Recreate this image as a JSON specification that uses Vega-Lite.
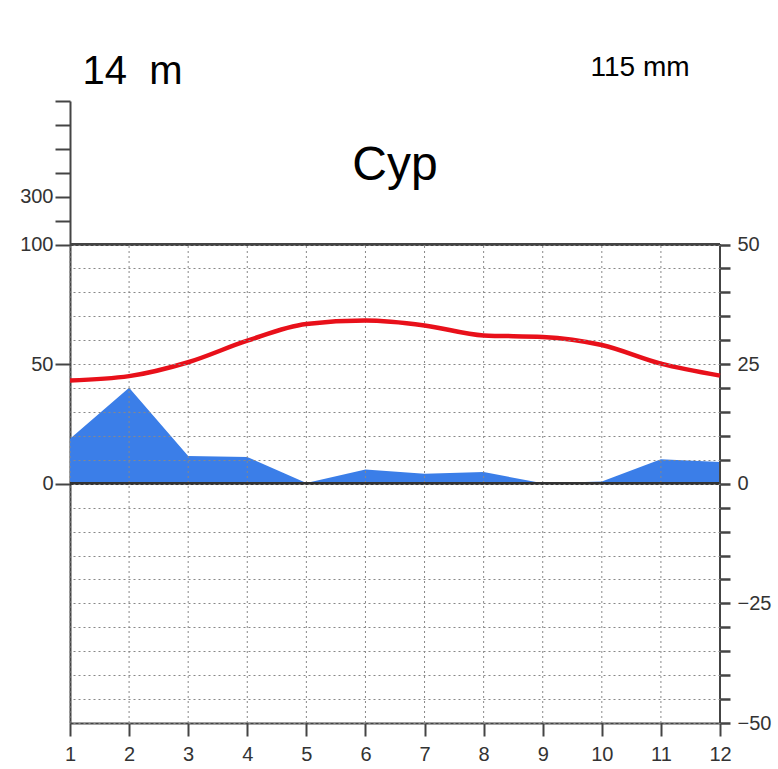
{
  "$schema": "https://vega.github.io/schema/vega-lite/v6.json",
  "width": 650,
  "height": 622,
  "autosize": {"type": "none"},
  "padding": {"left": 70, "top": 101, "right": 58, "bottom": 46},
  "background": "white",
  "config": {
    "font": "Liberation Sans",
    "view": {"stroke": null}
  },
  "title": {"text": "Cyp", "fontSize": 48, "fontWeight": "normal", "color": "black", "anchor": "middle", "frame": "group", "baseline": "alphabetic", "offset": -177},
  "data": {"values": [
    {"month": 1, "temp": 21.6, "precip": 18.8},
    {"month": 2, "temp": 22.5, "precip": 40.1},
    {"month": 3, "temp": 25.4, "precip": 11.6},
    {"month": 4, "temp": 29.9, "precip": 11.2},
    {"month": 5, "temp": 33.4, "precip": 0.3},
    {"month": 6, "temp": 34.1, "precip": 6.0},
    {"month": 7, "temp": 33.1, "precip": 4.2},
    {"month": 8, "temp": 31.0, "precip": 4.9},
    {"month": 9, "temp": 30.7, "precip": 0.2},
    {"month": 10, "temp": 29.0, "precip": 1.0},
    {"month": 11, "temp": 25.1, "precip": 10.2},
    {"month": 12, "temp": 22.6, "precip": 9.1}
  ]},
  "layer": [
    {
      "mark": {"type": "area", "color": "#3b7ee8", "interpolate": "linear", "opacity": 1},
      "encoding": {
        "x": {"field": "month", "type": "quantitative",
          "scale": {"domain": [1, 12], "nice": false, "zero": false},
          "axis": {"orient": "bottom", "values": [1,2,3,4,5,6,7,8,9,10,11,12], "format": "d", "grid": false,
            "tickSize": 13, "tickWidth": 2, "tickColor": "#444", "domainColor": "#444", "domainWidth": 2,
            "labelFontSize": 20, "labelColor": "#333", "labelPadding": 8, "labelFlush": false, "title": null}},
        "y": {"field": "precip", "type": "quantitative",
          "scale": {"domain": [-100, 160], "nice": false, "zero": false},
          "axis": {"orient": "left", "values": [0, 50, 100, 110, 120, 130, 140, 150, 160],
            "labelExpr": "datum.value == 0 ? '0' : datum.value == 50 ? '50' : datum.value == 100 ? '100' : datum.value == 120 ? '300' : ''",
            "grid": false, "tickSize": 15, "tickWidth": 2, "tickColor": "#444", "domainColor": "#444", "domainWidth": 2,
            "labelFontSize": 20, "labelColor": "#333", "labelPadding": 2, "labelFlush": false, "labelOverlap": false,
            "title": "14\u00a0\u00a0m", "titleAngle": 0, "titleX": 12, "titleY": -18, "titleAlign": "left", "titleBaseline": "alphabetic",
            "titleFontSize": 40, "titleFontWeight": "normal", "titleColor": "black"}}
      }
    },
    {
      "layer": [
        {
          "mark": {"type": "rule", "color": "#888", "strokeDash": [2, 3], "strokeWidth": 1},
          "encoding": {"x": {"field": "month", "type": "quantitative"},
            "y": {"datum": -50, "type": "quantitative",
              "axis": {"orient": "right", "values": [-50,-45,-40,-35,-30,-25,-20,-15,-10,-5,0,5,10,15,20,25,30,35,40,45,50],
                "labelExpr": "datum.value % 25 == 0 ? (datum.value < 0 ? '\u2212' + abs(datum.value) : '' + datum.value) : ''",
                "grid": true, "gridColor": "#888", "gridDash": [2, 3], "gridWidth": 1, "domain": false,
                "tickSize": 10, "tickWidth": 2.5, "tickColor": "#444",
                "labelFontSize": 20, "labelColor": "#333", "labelPadding": 7, "labelFlush": false, "labelOverlap": false,
                "title": "115 mm", "titleAngle": 0, "titleX": -130, "titleY": -26, "titleAlign": "left", "titleBaseline": "alphabetic",
                "titleFontSize": 28, "titleFontWeight": "normal", "titleColor": "black", "zindex": 1}},
            "y2": {"datum": 50}}
        },
        {
          "mark": {"type": "rule", "color": "#444", "strokeWidth": 2},
          "encoding": {"y": {"datum": 50, "type": "quantitative",
              "axis": {"orient": "right", "values": [-50,-45,-40,-35,-30,-25,-20,-15,-10,-5,0,5,10,15,20,25,30,35,40,45,50],
                "labelExpr": "datum.value % 25 == 0 ? (datum.value < 0 ? '\u2212' + abs(datum.value) : '' + datum.value) : ''",
                "grid": true, "gridColor": "#888", "gridDash": [2, 3], "gridWidth": 1, "domain": false,
                "tickSize": 10, "tickWidth": 2.5, "tickColor": "#444",
                "labelFontSize": 20, "labelColor": "#333", "labelPadding": 7, "labelFlush": false, "labelOverlap": false,
                "title": "115 mm", "titleAngle": 0, "titleX": -130, "titleY": -26, "titleAlign": "left", "titleBaseline": "alphabetic",
                "titleFontSize": 28, "titleFontWeight": "normal", "titleColor": "black", "zindex": 1}}}
        },
        {
          "mark": {"type": "rule", "color": "#333", "strokeWidth": 2.5},
          "encoding": {"y": {"datum": 0, "type": "quantitative",
              "axis": {"orient": "right", "values": [-50,-45,-40,-35,-30,-25,-20,-15,-10,-5,0,5,10,15,20,25,30,35,40,45,50],
                "labelExpr": "datum.value % 25 == 0 ? (datum.value < 0 ? '\u2212' + abs(datum.value) : '' + datum.value) : ''",
                "grid": true, "gridColor": "#888", "gridDash": [2, 3], "gridWidth": 1, "domain": false,
                "tickSize": 10, "tickWidth": 2.5, "tickColor": "#444",
                "labelFontSize": 20, "labelColor": "#333", "labelPadding": 7, "labelFlush": false, "labelOverlap": false,
                "title": "115 mm", "titleAngle": 0, "titleX": -130, "titleY": -26, "titleAlign": "left", "titleBaseline": "alphabetic",
                "titleFontSize": 28, "titleFontWeight": "normal", "titleColor": "black", "zindex": 1}}}
        },
        {
          "mark": {"type": "rule", "color": "#444", "strokeWidth": 2},
          "encoding": {"x": {"datum": 12},
            "y": {"datum": -50, "type": "quantitative",
              "axis": {"orient": "right", "values": [-50,-45,-40,-35,-30,-25,-20,-15,-10,-5,0,5,10,15,20,25,30,35,40,45,50],
                "labelExpr": "datum.value % 25 == 0 ? (datum.value < 0 ? '\u2212' + abs(datum.value) : '' + datum.value) : ''",
                "grid": true, "gridColor": "#888", "gridDash": [2, 3], "gridWidth": 1, "domain": false,
                "tickSize": 10, "tickWidth": 2.5, "tickColor": "#444",
                "labelFontSize": 20, "labelColor": "#333", "labelPadding": 7, "labelFlush": false, "labelOverlap": false,
                "title": "115 mm", "titleAngle": 0, "titleX": -130, "titleY": -26, "titleAlign": "left", "titleBaseline": "alphabetic",
                "titleFontSize": 28, "titleFontWeight": "normal", "titleColor": "black", "zindex": 1}},
            "y2": {"datum": 50}}
        },
        {
          "mark": {"type": "line", "color": "#e8101a", "strokeWidth": 4.5, "interpolate": "monotone"},
          "encoding": {
            "x": {"field": "month", "type": "quantitative"},
            "y": {"field": "temp", "type": "quantitative",
              "scale": {"domain": [-50, 80], "nice": false, "zero": false},
              "axis": {"orient": "right", "values": [-50,-45,-40,-35,-30,-25,-20,-15,-10,-5,0,5,10,15,20,25,30,35,40,45,50],
                "labelExpr": "datum.value % 25 == 0 ? (datum.value < 0 ? '\u2212' + abs(datum.value) : '' + datum.value) : ''",
                "grid": true, "gridColor": "#888", "gridDash": [2, 3], "gridWidth": 1, "domain": false,
                "tickSize": 10, "tickWidth": 2.5, "tickColor": "#444",
                "labelFontSize": 20, "labelColor": "#333", "labelPadding": 7, "labelFlush": false, "labelOverlap": false,
                "title": "115 mm", "titleAngle": 0, "titleX": -130, "titleY": -26, "titleAlign": "left", "titleBaseline": "alphabetic",
                "titleFontSize": 28, "titleFontWeight": "normal", "titleColor": "black", "zindex": 1}}
          }
        }
      ]
    }
  ],
  "resolve": {"scale": {"y": "independent"}, "axis": {"y": "independent"}}
}
